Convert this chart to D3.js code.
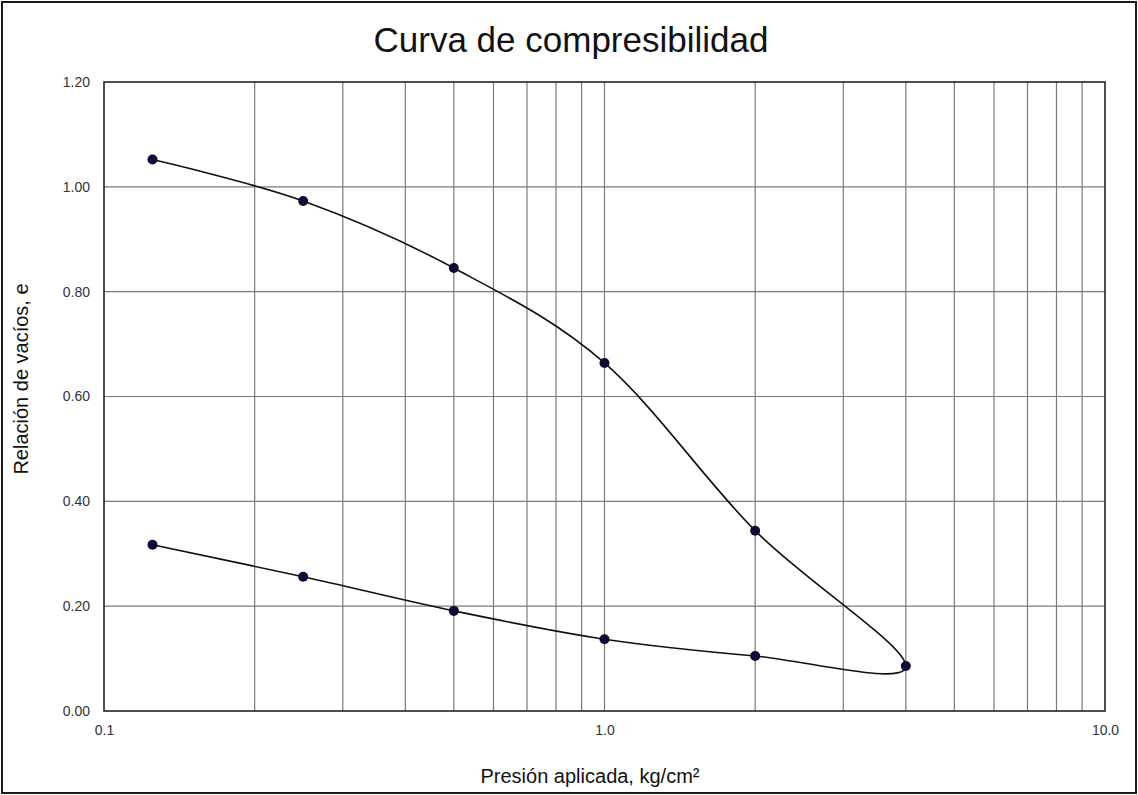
<!DOCTYPE html>
<html>
<head>
<meta charset="utf-8">
<script src="https://cdn.jsdelivr.net/npm/d3@7"></script>
<style>
  html, body { margin: 0; padding: 0; background: #fff; }
  svg { display: block; }
  text { font-family: Arial, "Liberation Sans", sans-serif; }
</style>
</head>
<body>
<script>
// Consolidation test: void ratio vs applied pressure (log scale)
const loadPressures = [0.125, 0.25, 0.5, 1, 2, 4];
const loadVoidRatios = [1.052, 0.973, 0.845, 0.664, 0.344, 0.086];
const unloadPressures = [2, 1, 0.5, 0.25, 0.125];
const unloadVoidRatios = [0.105, 0.137, 0.191, 0.256, 0.317];

const xTickLabels = [0.1, 1, 10];
const yTickValues = [0, 0.2, 0.4, 0.6, 0.8, 1.0, 1.2];
const xGridValues = [0.2, 0.3, 0.4, 0.5, 0.6, 0.7, 0.8, 0.9, 1, 2, 3, 4, 5, 6, 7, 8, 9];

const W = 1138, H = 795;
const m = { left: 104, right: 33, top: 82, bottom: 84 };

const svg = d3.select("body").append("svg").attr("width", W).attr("height", H);

// outer frame
svg.append("rect").attr("x", 2).attr("y", 2).attr("width", W - 4).attr("height", H - 4)
  .attr("fill", "#fff").attr("stroke", "#1a1a1a").attr("stroke-width", 2);

const x = d3.scaleLog().domain([0.1, 10]).range([m.left, W - m.right]);
const y = d3.scaleLinear().domain([0, 1.2]).range([H - m.bottom, m.top]);

// grid
const grid = svg.append("g");
grid.selectAll("line.v").data(xGridValues).join("line")
  .attr("x1", d => x(d)).attr("x2", d => x(d))
  .attr("y1", y(0)).attr("y2", y(1.2))
  .attr("stroke", "#7a7a7a").attr("stroke-width", 1.2);
grid.selectAll("line.h").data(yTickValues.slice(1, -1)).join("line")
  .attr("x1", x(0.1)).attr("x2", x(10))
  .attr("y1", d => y(d)).attr("y2", d => y(d))
  .attr("stroke", "#7a7a7a").attr("stroke-width", 1.2);

// plot border
svg.append("rect").attr("x", x(0.1)).attr("y", y(1.2))
  .attr("width", x(10) - x(0.1)).attr("height", y(0) - y(1.2))
  .attr("fill", "none").attr("stroke", "#222").attr("stroke-width", 1.6);

// axes (labels only)
const yAxis = d3.axisLeft(y).tickValues(yTickValues).tickFormat(d3.format(".2f")).tickSize(0).tickPadding(14);
svg.append("g").attr("transform", `translate(${x(0.1)},0)`).call(yAxis)
  .call(g => g.select(".domain").remove())
  .call(g => g.selectAll("text").attr("font-size", 14).attr("fill", "#333")
    .attr("font-family", "Arial, 'Liberation Sans', sans-serif"));

const xAxis = d3.axisBottom(x).tickValues(xTickLabels).tickFormat(d3.format(".1f")).tickSize(0).tickPadding(14);
svg.append("g").attr("transform", `translate(0,${y(0)})`).call(xAxis)
  .call(g => g.select(".domain").remove())
  .call(g => g.selectAll("text").attr("font-size", 14).attr("fill", "#333")
    .attr("font-family", "Arial, 'Liberation Sans', sans-serif"));

// curve: loading then unloading branch, smoothed
const pts = loadPressures.map((p, i) => [p, loadVoidRatios[i]])
  .concat(unloadPressures.map((p, i) => [p, unloadVoidRatios[i]]));

const line = d3.line().x(d => x(d[0])).y(d => y(d[1])).curve(d3.curveCardinal.tension(0));
svg.append("path").datum(pts).attr("d", line)
  .attr("fill", "none").attr("stroke", "#111").attr("stroke-width", 1.6);

svg.append("g").selectAll("circle").data(pts).join("circle")
  .attr("cx", d => x(d[0])).attr("cy", d => y(d[1])).attr("r", 5)
  .attr("fill", "#0b0b35");

// titles
svg.append("text").attr("x", 571).attr("y", 52).attr("text-anchor", "middle")
  .attr("font-size", 35).attr("fill", "#111").text("Curva de compresibilidad");

svg.append("text").attr("transform", `translate(28,${379}) rotate(-90)`)
  .attr("text-anchor", "middle").attr("font-size", 20).attr("fill", "#111")
  .text("Relación de vacíos, e");

svg.append("text").attr("x", 590).attr("y", 783).attr("text-anchor", "middle")
  .attr("font-size", 20).attr("fill", "#111").text("Presión aplicada, kg/cm²");
</script>
</body>
</html>
